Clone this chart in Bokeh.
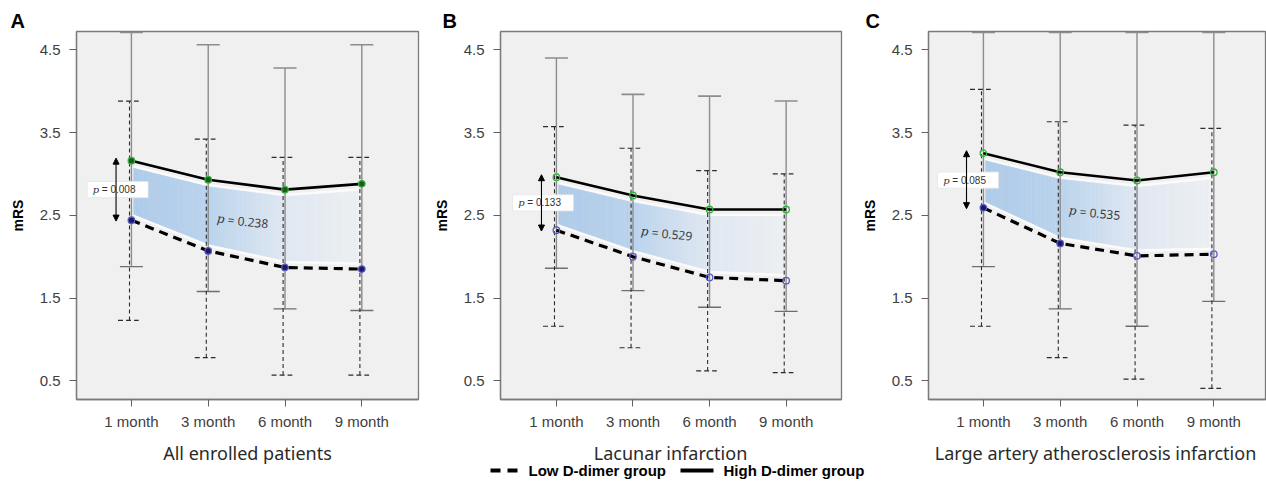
import numpy as np
from bokeh.plotting import figure
from bokeh.layouts import row, column
from bokeh.models import FixedTicker, Arrow, NormalHead, Range1d
from bokeh.core.properties import value
from bokeh.embed import file_html
from bokeh.resources import INLINE

# ---------------- data ----------------
months = ["1 month", "3 month", "6 month", "9 month"]
x_pos = [1, 2, 3, 4]
y_ticks = [0.5, 1.5, 2.5, 3.5, 4.5]

panel_letters = ["A", "B", "C"]
panel_titles = ["All enrolled patients", "Lacunar infarction",
                "Large artery atherosclerosis infarction"]
legend_labels = ["Low D-dimer group", "High D-dimer group"]

a_high_mean = [3.16, 2.93, 2.81, 2.88]
a_high_upper = [4.71, 4.56, 4.28, 4.56]
a_high_lower = [1.88, 1.58, 1.37, 1.35]
a_low_mean = [2.44, 2.07, 1.87, 1.85]
a_low_upper = [3.88, 3.42, 3.20, 3.20]
a_low_lower = [1.23, 0.78, 0.57, 0.57]
a_p_first = "0.008"
a_p_overall = "0.238"

b_high_mean = [2.96, 2.74, 2.57, 2.57]
b_high_upper = [4.40, 3.96, 3.94, 3.88]
b_high_lower = [1.86, 1.59, 1.39, 1.34]
b_low_mean = [2.32, 2.00, 1.75, 1.71]
b_low_upper = [3.57, 3.31, 3.04, 3.00]
b_low_lower = [1.16, 0.90, 0.62, 0.60]
b_p_first = "0.133"
b_p_overall = "0.529"

c_high_mean = [3.25, 3.02, 2.92, 3.02]
c_high_upper = [4.71, 4.71, 4.71, 4.71]
c_high_lower = [1.88, 1.37, 1.16, 1.46]
c_low_mean = [2.59, 2.16, 2.01, 2.03]
c_low_upper = [4.02, 3.63, 3.59, 3.55]
c_low_lower = [1.16, 0.78, 0.52, 0.41]
c_p_first = "0.085"
c_p_overall = "0.535"

# ---------------- styling helpers ----------------
GRAD_POS = [1.0, 2.0, 3.0, 4.0]
GRAD_RGB = [(174, 203, 234), (186, 211, 237), (224, 232, 242), (237, 240, 243)]
PX_X = 76.8   # pixels per category step
PX_Y = 82.6   # pixels per mRS unit


def grad_color(xv):
    r = np.interp(xv, GRAD_POS, [c[0] for c in GRAD_RGB])
    g = np.interp(xv, GRAD_POS, [c[1] for c in GRAD_RGB])
    b = np.interp(xv, GRAD_POS, [c[2] for c in GRAD_RGB])
    return "#%02x%02x%02x" % (int(r), int(g), int(b))


def make_panel(letter, hm, hu, hl, lm, lu, ll, p1, p2, *,
               width, bl, br, xr, letter_off, box_xy, ptxt_xy,
               high_fill_alpha, low_fill_alpha, high_fill, low_fill):
    p = figure(width=width, height=436, x_range=Range1d(*xr),
               y_range=Range1d(0.275, 4.72), output_backend="svg",
               toolbar_location=None, min_border_left=bl, min_border_right=br,
               min_border_top=31, min_border_bottom=37)
    p.background_fill_color = "#f0f0f0"
    p.border_fill_color = "white"
    p.outline_line_color = "#7a7a7a"
    p.outline_line_width = 1.3
    p.xgrid.visible = False
    p.ygrid.visible = False

    # panel letter
    p.title.text = letter
    p.title.text_font = "Liberation Sans"
    p.title.text_font_size = "20px"
    p.title.text_font_style = "bold"
    p.title.align = "left"
    p.title.offset = letter_off
    p.title.standoff = 0
    p.title.text_color = "black"

    # axes
    p.xaxis.ticker = FixedTicker(ticks=x_pos)
    p.xaxis.major_label_overrides = {x: m for x, m in zip(x_pos, months)}
    p.yaxis.ticker = FixedTicker(ticks=y_ticks)
    for ax in (p.xaxis[0], p.yaxis[0]):
        ax.axis_line_color = "#7a7a7a"
        ax.axis_line_width = 1.3
        ax.major_tick_line_color = "#606060"
        ax.major_tick_out = 7
        ax.major_tick_in = 0
        ax.minor_tick_line_color = None
        ax.major_label_text_font = "Liberation Sans"
        ax.major_label_text_font_size = "15px"
        ax.major_label_text_color = "#404040"
    p.xaxis.major_label_standoff = 6
    p.yaxis.major_label_standoff = 9
    p.yaxis.axis_label = "mRS"
    p.yaxis.axis_label_text_font = "Liberation Sans"
    p.yaxis.axis_label_text_font_size = "14px"
    p.yaxis.axis_label_text_font_style = "bold"
    p.yaxis.axis_label_text_color = "black"
    p.yaxis.axis_label_standoff = 11

    # shaded band between the two mean lines (gradient via thin slices)
    xs = np.linspace(1.03, 3.96, 120)
    top = np.interp(xs, x_pos, hm) - 0.085
    bot = np.interp(xs, x_pos, lm) + 0.085
    p.varea(x=xs, y1=bot - 0.035, y2=top + 0.035, fill_color="white", fill_alpha=0.75)
    qx, qy, qc = [], [], []
    for i in range(len(xs) - 1):
        qx.append([xs[i], xs[i + 1], xs[i + 1], xs[i]])
        qy.append([bot[i], bot[i + 1], top[i + 1], top[i]])
        qc.append(grad_color(0.5 * (xs[i] + xs[i + 1])))
    p.patches(xs=qx, ys=qy, fill_color=qc, line_color=qc, line_width=0.6)

    # error bars: high group (solid grey)
    hw = 0.15
    p.segment(x0=x_pos, y0=hl, x1=x_pos, y1=hu, line_color="#8c8c8c", line_width=1.4)
    p.segment(x0=[x - hw for x in x_pos], y0=hu, x1=[x + hw for x in x_pos], y1=hu,
              line_color="#8c8c8c", line_width=1.6)
    p.segment(x0=[x - hw for x in x_pos], y0=hl, x1=[x + hw for x in x_pos], y1=hl,
              line_color="#6e6e6e", line_width=1.4)
    # error bars: low group (dashed dark)
    xd = [x - 0.025 for x in x_pos]
    dw = 0.135
    p.segment(x0=xd, y0=ll, x1=xd, y1=lu, line_color="#2b2b2b", line_width=1.1,
              line_dash="4 3")
    p.segment(x0=[x - dw - 0.015 for x in xd], y0=lu, x1=[x + dw - 0.015 for x in xd], y1=lu,
              line_color="#2b2b2b", line_width=1.2, line_dash="5 3")
    p.segment(x0=[x - dw - 0.015 for x in xd], y0=ll, x1=[x + dw - 0.015 for x in xd], y1=ll,
              line_color="#2b2b2b", line_width=1.2, line_dash="5 3")

    # mean lines
    p.line(x_pos, lm, line_color="black", line_width=3.2, line_dash="9 6")
    p.line(x_pos, hm, line_color="black", line_width=2.6)
    p.scatter(x_pos, hm, size=6.5, line_color="#34b03c", line_width=1.3,
              fill_color=high_fill, fill_alpha=high_fill_alpha)
    p.scatter(x_pos, lm, size=6.5, line_color="#5a5ac8", line_width=1.3,
              fill_color=low_fill, fill_alpha=low_fill_alpha)

    # first-timepoint comparison arrow + box
    ax_ = box_xy[0] - 0.02
    p.add_layout(Arrow(x_start=ax_, y_start=lm[0] - 0.01, x_end=ax_, y_end=hm[0] + 0.03,
                       line_width=1.1, line_color="black",
                       start=NormalHead(size=6, fill_color="black", line_color="black"),
                       end=NormalHead(size=6, fill_color="black", line_color="black")))
    bw, bh = 61 / PX_X, 16 / PX_Y
    p.rect(x=[box_xy[0]], y=[box_xy[1]], width=bw, height=bh, fill_color="white",
           line_color="#e6e6e6", line_width=0.8)
    tx = box_xy[0] - bw / 2 + 0.075
    p.text(x=[tx], y=[box_xy[1]], text=["p"], text_font=value("DejaVu Serif"),
           text_font_style="italic", text_font_size="10px", text_baseline="middle",
           text_align="left", text_color="#333333")
    p.text(x=[tx], y=[box_xy[1]], text=["= " + p1], x_offset=9,
           text_font=value("Liberation Sans"), text_font_size="10px",
           text_baseline="middle", text_align="left", text_color="#333333")

    # overall p-value, slightly rotated
    ang = -0.1
    cx, cy = ptxt_xy
    lx = cx - 24.5 * np.cos(ang) / PX_X
    ly = cy - 24.5 * np.sin(ang) / PX_Y
    p.text(x=[lx], y=[ly], text=["p"], angle=ang, text_font=value("DejaVu Serif"),
           text_font_style="italic", text_font_size="12px", text_baseline="middle",
           text_align="left", text_color="#333333")
    p.text(x=[lx], y=[ly], text=["= " + p2], angle=ang,
           x_offset=11 * np.cos(ang), y_offset=-11 * np.sin(ang),
           text_font=value("Open Sans"), text_font_size="12px", text_baseline="middle",
           text_align="left", text_color="#333333")
    return p


pa = make_panel(panel_letters[0], a_high_mean, a_high_upper, a_high_lower,
                a_low_mean, a_low_upper, a_low_lower, a_p_first, a_p_overall,
                width=430, bl=76, br=12, xr=(0.285, 4.738), letter_off=-66,
                box_xy=(0.82, 2.81), ptxt_xy=(2.43, 2.43),
                high_fill_alpha=[1, 1, 1, 1], low_fill_alpha=[1, 1, 1, 1],
                high_fill="#1e5a22", low_fill="#1c1c5a")
pb = make_panel(panel_letters[1], b_high_mean, b_high_upper, b_high_lower,
                b_low_mean, b_low_upper, b_low_lower, b_p_first, b_p_overall,
                width=421, bl=69, br=10, xr=(0.27, 4.723), letter_off=-58,
                box_xy=(0.825, 2.65), ptxt_xy=(2.42, 2.28),
                high_fill_alpha=[0, 0, 0, 0], low_fill_alpha=[0, 0, 0, 0],
                high_fill="#1e5a22", low_fill="#1c1c5a")
pc = make_panel(panel_letters[2], c_high_mean, c_high_upper, c_high_lower,
                c_low_mean, c_low_upper, c_low_lower, c_p_first, c_p_overall,
                width=415, bl=77, br=0, xr=(0.285, 4.686), letter_off=-63,
                box_xy=(0.80, 2.925), ptxt_xy=(2.43, 2.53),
                high_fill_alpha=[0, 0, 0, 0], low_fill_alpha=[1, 1, 0, 0],
                high_fill="#1e5a22", low_fill="#1c1c5a")

# bottom strip: panel x-axis titles + legend (pixel coordinates, y downwards)
lg = figure(width=1266, height=50, x_range=Range1d(0, 1266), y_range=Range1d(486, 436),
            output_backend="svg", toolbar_location=None, min_border=0)
lg.axis.visible = False
lg.grid.visible = False
lg.outline_line_color = None
lg.background_fill_color = "white"
lg.border_fill_color = "white"
lg.text(x=[247, 670, 1095], y=[452, 452, 452], text=panel_titles,
        text_font=value("Noto Sans"), text_font_size="18px", text_baseline="middle",
        text_align="center", text_color="#2a2a2a")
lg.line([490, 517], [470, 470], line_color="black", line_width=4, line_dash="10 7")
lg.line([680, 713], [470, 470], line_color="black", line_width=4)
lg.text(x=[528, 723], y=[470, 470], text=legend_labels, text_font=value("Liberation Sans"),
        text_font_style="bold", text_font_size="15px", text_baseline="middle",
        text_align="left", text_color="black")

layout = column(row(pa, pb, pc, spacing=0), lg, spacing=0)
open("out.html", "w").write(file_html(layout, INLINE))
